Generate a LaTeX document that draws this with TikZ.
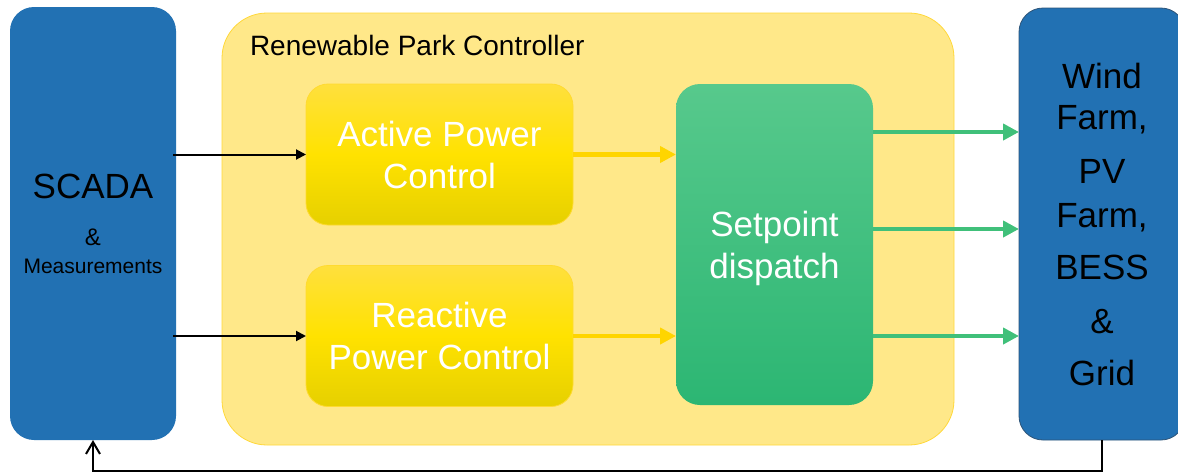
\documentclass[tikz,border=0pt]{standalone}
\usepackage{fontspec}
\setmainfont{Liberation Sans}
\usetikzlibrary{arrows.meta}

\definecolor{scadablue}{HTML}{2271B3}
\definecolor{farmedge}{HTML}{2D5478}
\definecolor{parkfill}{HTML}{FFE889}
\definecolor{parkdraw}{HTML}{FFD83A}
\definecolor{ctrltop}{HTML}{FFE03D}
\definecolor{ctrlmid}{HTML}{FFE200}
\definecolor{ctrlbot}{HTML}{E6D000}
\definecolor{ctrledge}{HTML}{FFDA30}
\definecolor{disptop}{HTML}{57C98C}
\definecolor{dispbot}{HTML}{2CB673}
\definecolor{yellowline}{HTML}{FFD500}
\definecolor{greenline}{HTML}{40C07A}

\begin{document}
\begin{tikzpicture}[
    x=1pt, y=-1pt,
    every node/.style={inner sep=0pt, outer sep=0pt},
    bigtext/.style={font=\fontsize{35}{42}\selectfont},
    side/.style={rounded corners=24pt, fill=scadablue, align=center},
    park/.style={rounded corners=45pt, fill=parkfill, draw=parkdraw, line width=0.8pt},
    ctrl/.style={rounded corners=22pt, top color=ctrltop, bottom color=ctrlbot, middle color=ctrlmid, draw=ctrledge, line width=0.8pt,
                 minimum width=267pt, minimum height=141pt, text=white, align=center, bigtext},
    dispatchbox/.style={rounded corners=24pt, top color=disptop, bottom color=dispbot, draw=none,
                 minimum width=197pt, minimum height=321pt, text=white, align=center, bigtext},
    signal/.style={-{Triangle[length=10pt,width=10pt]}, line width=2pt},
    ctrlflow/.style={-{Triangle[length=16pt,width=16pt]}, line width=4.5pt, draw=yellowline},
    setflow/.style={-{Triangle[length=16pt,width=16pt]}, line width=4.5pt, draw=greenline},
    feedback/.style={-{Straight Barb[length=12pt,width=14pt]}, line width=2pt}
]
\useasboundingbox (0,0) rectangle (1178,472);

% controller frame
\node[park, minimum width=732pt, minimum height=432pt] (park) at (588,229) {};
\node[font=\fontsize{28}{34}\selectfont, anchor=base west] (title) at (250,55) {Renewable Park Controller};

% outer blocks
\node[side, minimum width=166pt, minimum height=433pt, font=\fontsize{21}{25}\selectfont] (scada) at (93,223.5)
    {{\fontsize{35}{42}\selectfont SCADA}\\[22pt]{\fontsize{24}{29}\selectfont\&}\\[3pt]Measurements};
\node[side, draw=farmedge, line width=0.8pt, minimum width=166pt, minimum height=432pt, font=\fontsize{35}{41}\selectfont] (farms) at (1102,224)
    {Wind\\Farm,\\[13pt]PV\\[3pt]Farm,\\[11pt]BESS\\[13pt]\&\\[11pt]Grid};

% inner blocks
\node[ctrl] (apc) at (439.5,154.5) {Active Power\\Control};
\node[ctrl] (rpc) at (439.5,336) {Reactive\\Power Control};
\node[dispatchbox] (dispatch) at (774.5,244.5) {\rule{0pt}{34pt}Setpoint\\dispatch};

% measurements in
\draw[signal] ([xshift=-3pt]scada.east |- apc.west) -- (apc.west);
\draw[signal] ([xshift=-3pt]scada.east |- rpc.west) -- (rpc.west);

% to dispatch
\draw[ctrlflow] (apc.east) -- (apc.east -| dispatch.west);
\draw[ctrlflow] (rpc.east) -- (rpc.east -| dispatch.west);

% setpoints out
\draw[setflow] ([yshift=112.5pt]dispatch.east) -- ([yshift=112.5pt]dispatch.east -| farms.west);
\draw[setflow] ([yshift=15.5pt]dispatch.east) -- ([yshift=15.5pt]dispatch.east -| farms.west);
\draw[setflow] (dispatch.east |- rpc.east) -- (rpc.east -| farms.west);

% feedback
\draw[feedback] (farms.south) -- ++(0,30.5) -| (scada.south);
\end{tikzpicture}
\end{document}
